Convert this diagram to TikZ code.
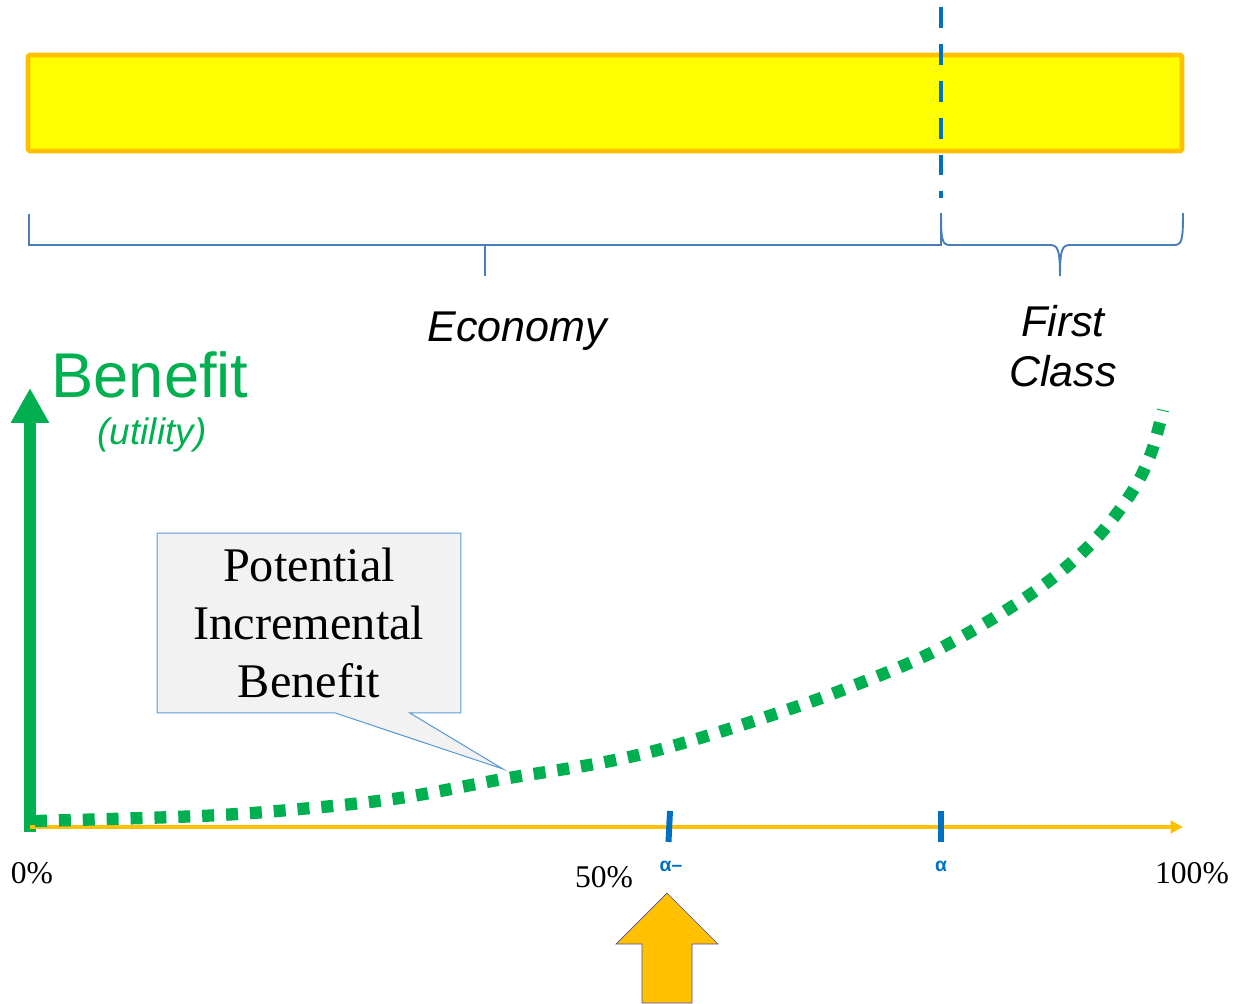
\documentclass[tikz,border=0pt]{standalone}
\usepackage{fontspec}
\setmainfont{Liberation Serif}
\setsansfont{Liberation Sans}
\usetikzlibrary{arrows.meta,calc,backgrounds}
\definecolor{barfill}{HTML}{FFFF00}
\definecolor{barorange}{HTML}{FFC000}
\definecolor{splitblue}{HTML}{0070C0}
\definecolor{bracecol}{HTML}{4A7EBB}
\definecolor{benefitgreen}{HTML}{00B050}
\definecolor{calloutfill}{HTML}{F2F2F2}
\definecolor{calloutline}{HTML}{5B9BD5}

\begin{document}
\begin{tikzpicture}[x=0.02cm, y=-0.02cm]
        \tikzstyle{every node}=[inner sep=0pt]
        \tikzstyle{sidelabel}=[font=\sffamily\itshape\fontsize{24.5}{28.5}\selectfont, align=center]
        \tikzstyle{pct}=[font=\fontsize{18}{20}\selectfont]
        \tikzstyle{alphalabel}=[text=splitblue, font=\sffamily\bfseries\fontsize{11}{12}\selectfont]
        \tikzstyle{bracket}=[draw=bracecol, line width=1.1pt]
        \tikzstyle{tickmark}=[draw=splitblue, line width=3.4pt]
        \useasboundingbox (0,0) rectangle (1234,1004);
        \draw[fill=barfill, draw=barorange, line width=2.8pt, rounded corners=1pt] (28,55) rectangle (1182,151);
        \draw[splitblue, line width=2.3pt, dash pattern=on 11.9pt off 9.1pt] (941,7) -- (941,198);
        \draw[bracket] (29,214) -- (29,245) -- (941,245) -- (941,213);
        \draw[bracket] (485,245) -- (485,276);
        \draw[bracket] (941,213) .. controls (941,240) and (942,245) .. (950,245) -- (1050,245) .. controls (1058,245) and (1060,250) .. (1060,276) .. controls (1060,250) and (1062,245) .. (1070,245) -- (1174,245) .. controls (1182,245) and (1183,240) .. (1183,213);
        \node[sidelabel] (economy) at (517,331) {Economy};
        \node[sidelabel] (firstclass) at (1063,346) {First\\Class};
        \node[text=benefitgreen, font=\sffamily\fontsize{36}{40}\selectfont] (benefit) at (150,375) {Benefit};
        \node[text=benefitgreen, font=\sffamily\itshape\fontsize{21}{24}\selectfont] (utility) at (152,435) {(utility)};
        \draw[benefitgreen, line width=6.8pt, -{Triangle[width=20.4pt,length=19.8pt]}] (30,832) -- (30,388);
        \draw[barorange, line width=2.3pt, -{Triangle[width=7pt,length=7pt]}] (30,827) -- (1183,827);
        \draw[tickmark] (670,811) -- (668.5,842);
        \draw[tickmark] (941,811) -- (941,842);
        \draw[benefitgreen, line width=7pt, dash pattern=on 6.8pt off 6.8pt] plot[smooth, tension=0.6] coordinates {(35,821) (200,816) (300,809) (400,798) (503,779) (600,763) (669,747) (760,719) (845,689) (937,650) (1028,596) (1087,548) (1128,498) (1150,456) (1163,410)};
        \node[pct] (p0) at (32,873) {0\%};
        \node[pct] (p50) at (604,877) {50\%};
        \node[pct] (p100) at (1192,873) {100\%};
        \node[alphalabel] (alphaminus) at (671,866) {α–};
        \node[alphalabel] (alpha) at (941,866) {α};
        \filldraw[fill=barorange, draw=gray!60!blue, line width=0.4pt] (667,893) -- (718,944) -- (692,944) -- (692,1003) -- (642,1003) -- (642,944) -- (616,944) -- cycle;
        \coordinate (tip) at (503,769);
        \node[font=\fontsize{27.5}{33}\selectfont, align=center, minimum width=172.4pt, minimum height=102pt] (pib) at (309,623) {Potential\\Incremental\\Benefit};
        \begin{scope}[on background layer]
        \filldraw[fill=calloutfill, draw=calloutline, line width=0.6pt] (pib.north west) -- (pib.north east) -- (pib.south east) -- ($(pib.south west)!0.832!(pib.south east)$) -- (tip) -- ($(pib.south west)!0.586!(pib.south east)$) -- (pib.south west) -- cycle;
        \end{scope}
    \end{tikzpicture}
\end{document}
